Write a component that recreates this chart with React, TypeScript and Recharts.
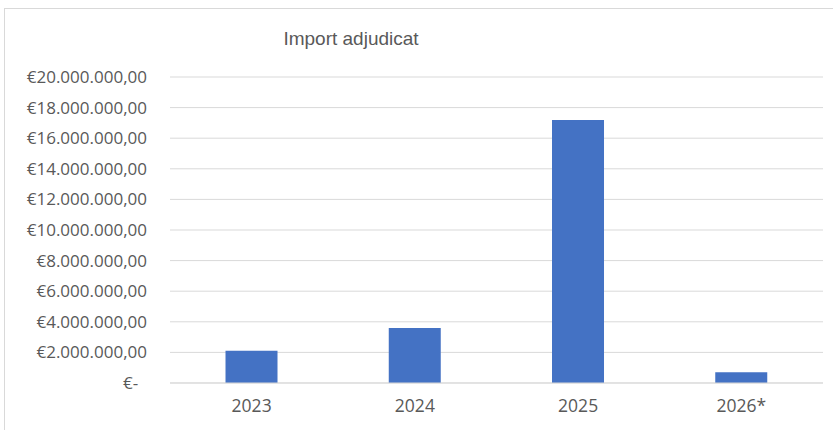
import React from 'react';
import { BarChart, Bar, XAxis, YAxis, CartesianGrid } from 'recharts';

// Import adjudicat per any (2026 parcial)
const years = ['2023', '2024', '2025', '2026*'];
const amounts = [2110000, 3600000, 17190000, 700000];
const yTicks = [0, 2000000, 4000000, 6000000, 8000000, 10000000, 12000000, 14000000, 16000000, 18000000, 20000000];

const data = years.map((year, i) => ({ year, amount: amounts[i] }));

const euro = (v: number) => {
  if (v === 0) return '€-\u00A0\u00A0';
  const s = Math.round(v).toString().replace(/\B(?=(\d{3})+(?!\d))/g, '.');
  return `€${s},00`;
};

const font = "'Open Sans', 'Liberation Sans', sans-serif";

export default function App() {
  return (
    <div style={{ position: 'absolute', left: 0, top: 0, width: 833, height: 430, background: '#fff', overflow: 'hidden' }}>
      <div
        style={{
          position: 'absolute',
          left: 4,
          top: 8,
          width: 860,
          height: 460,
          border: '1px solid #d9d9d9',
        }}
      />
      <div
        style={{
          position: 'absolute',
          left: 0,
          top: 28,
          width: 702,
          textAlign: 'center',
          fontFamily: "'Liberation Sans', Arial, sans-serif",
          fontSize: 19,
          color: '#595959',
        }}
      >
        Import adjudicat
      </div>
      <div style={{ position: 'absolute', left: 0, top: 0 }}>
        <BarChart
          width={833}
          height={430}
          data={data}
          margin={{ top: 77, right: 10, bottom: 0, left: 0 }}
          barCategoryGap="34%"
        >
          <CartesianGrid vertical={false} stroke="#d9d9d9" strokeWidth={1} />
          <XAxis
            dataKey="year"
            axisLine={{ stroke: '#d9d9d9' }}
            tickLine={false}
            tickMargin={11}
            height={47}
            tick={{ fill: '#595959', fontSize: 17.5, fontFamily: font }}
          />
          <YAxis
            width={170}
            domain={[0, 20000000]}
            ticks={yTicks}
            interval={0}
            tickFormatter={euro}
            axisLine={false}
            tickLine={false}
            tickMargin={17}
            tick={{ fill: '#595959', fontSize: 17, fontFamily: font }}
          />
          <Bar dataKey="amount" fill="#4472c4" isAnimationActive={false} />
        </BarChart>
      </div>
    </div>
  );
}
